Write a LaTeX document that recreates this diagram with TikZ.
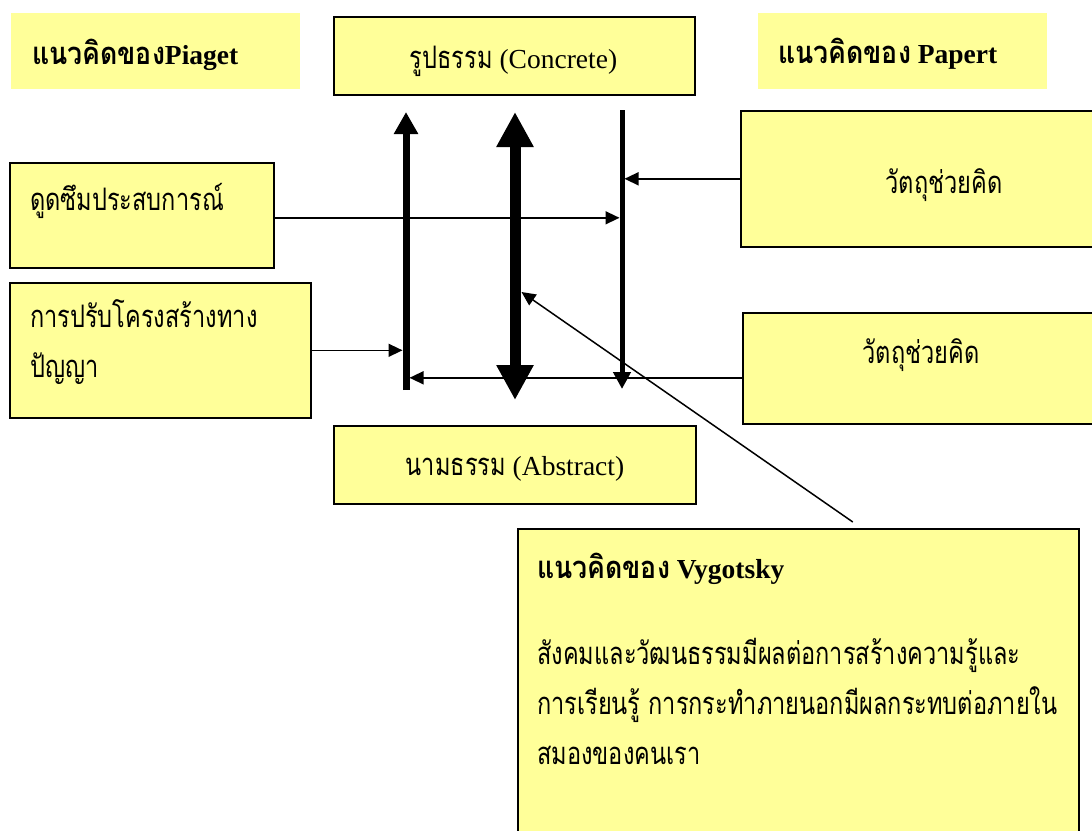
\documentclass[tikz,border=0pt]{standalone}
\usepackage{fontspec}
\setmainfont{Liberation Serif}
\newfontfamily\thai[Script=Thai, FakeStretch=0.76, BoldFeatures={FakeStretch=0.86}]{Loma}
\usetikzlibrary{arrows.meta}
\definecolor{yfill}{HTML}{FFFF99}
\newcommand\thaisize{31}
\newcommand\tx[1]{{\thai\fontsize{\thaisize}{36}\selectfont #1}}
\tikzset{
  ybox/.style={draw=black, line width=1.6pt, fill=yfill, rectangle, inner sep=0pt, anchor=north west},
  tbox/.style={fill=yfill, draw=none, rectangle, inner sep=0pt, anchor=north west},
  lbl/.style={anchor=base west, inner sep=0pt, font=\fontsize{27.5}{33}\selectfont},
  clbl/.style={anchor=base, inner sep=0pt, font=\fontsize{27.5}{33}\selectfont},
  conn/.style={line width=1.5pt, -{Triangle[width=13pt,length=14pt]}},
}
\begin{document}
\begin{tikzpicture}[x=1pt,y=-1pt]
\useasboundingbox (0,0) rectangle (1092,830);
\clip (0,0) rectangle (1092,830);
% title boxes
\node[tbox, minimum width=289pt, minimum height=76pt] (pia) at (11,13) {};
\node[tbox, minimum width=289pt, minimum height=76pt] (pap) at (758,13) {};
\node[lbl] (piaT) at (32,64) {\bfseries\tx{แนวคิดของ}Piaget};
\node[lbl] (papT) at (778,63) {\bfseries\tx{แนวคิดของ} Papert};
% concrete / abstract
\node[ybox, minimum width=361pt, minimum height=78pt] (conc) at (333,16) {};
\node[clbl] (concT) at (513.5,68) {\tx{รูปธรรม} (Concrete)};
\node[ybox, minimum width=362pt, minimum height=78pt] (abst) at (333,425) {};
\node[clbl] (abstT) at (515,475) {\tx{นามธรรม} (Abstract)};
% left boxes
\node[ybox, minimum width=264pt, minimum height=105pt] (dud) at (9,162) {};
\node[lbl] (dudT) at (30,210) {\tx{ดูดซึมประสบการณ์}};
\node[ybox, minimum width=301pt, minimum height=135pt] (kan) at (9,282) {};
\node[lbl] (kanT1) at (30,327) {\tx{การปรับโครงสร้างทาง}};
\node[lbl] (kanT2) at (30,377) {\tx{ปัญญา}};
% right boxes
\node[ybox, minimum width=360pt, minimum height=136pt] (v1) at (740,110) {};
\node[clbl] (v1T) at (944,193) {\tx{วัตถุช่วยคิด}};
\node[ybox, minimum width=358pt, minimum height=111pt] (v2) at (742,312) {};
\node[clbl] (v2T) at (921,363) {\tx{วัตถุช่วยคิด}};
% Vygotsky box
\node[ybox, minimum width=561pt, minimum height=322pt] (vyg) at (517,528) {};
\node[lbl] (vygT) at (537,578) {\bfseries\tx{แนวคิดของ} Vygotsky};
\node[lbl] (vygL1) at (537,664) {\tx{สังคมและวัฒนธรรมมีผลต่อการสร้างความรู้และ}};
\node[lbl] (vygL2) at (537,714) {\tx{การเรียนรู้ การกระทำภายนอกมีผลกระทบต่อภายใน}};
\node[lbl] (vygL3) at (537,764) {\tx{สมองของคนเรา}};
% vertical arrows
\coordinate (a1b) at (406,390); \coordinate (a1t) at (406,112);
\coordinate (a1l) at (402.5,0); \coordinate (a1r) at (409.5,0);
\coordinate (a2t) at (515,112); \coordinate (a2b) at (515,400);
\coordinate (hit) at (521.5,292);
\coordinate (a3t) at (622,110); \coordinate (a3b) at (622,389);
\coordinate (a3l) at (619.5,0); \coordinate (a3r) at (624.5,0);
\draw[line width=7pt, -{Triangle[width=23pt,length=22pt]}] (a1b) -- (a1t);
\draw[line width=11pt, {Triangle[width=35pt,length=35pt]}-{Triangle[width=35pt,length=35pt]}] (a2t) -- (a2b);
\draw[line width=5pt, -{Triangle[width=17pt,length=17pt]}] (a3t) -- (a3b);
% connectors
\coordinate (dudE) at ([yshift=-2.5pt]dud.east);
\coordinate (v2W) at ([yshift=-9.5pt]v2.west);
\coordinate (vygN) at ([xshift=54.5pt,yshift=6pt]vyg.north);
\draw[conn] (v1.west) -- (a3r |- v1.west);
\draw[conn] (dudE) -- (a3l |- dudE);
\draw[conn] (kan.east) -- (a1l |- kan.east);
\draw[conn] (v2W) -- (a1r |- v2W);
\draw[conn] (vygN) -- (hit);
\end{tikzpicture}
\end{document}
